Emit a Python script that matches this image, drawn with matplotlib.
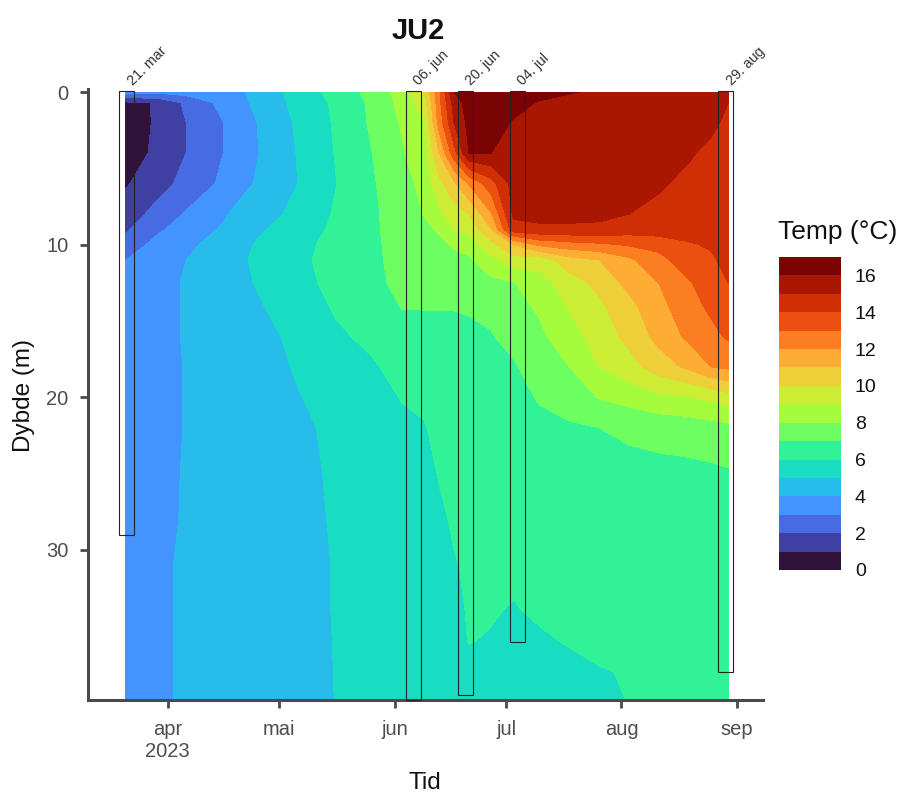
import numpy as np
import pandas as pd
import matplotlib
matplotlib.use("Agg")
import matplotlib.pyplot as plt
import matplotlib.dates as mdates
from matplotlib.colors import BoundaryNorm, ListedColormap
from matplotlib.patches import Rectangle
from matplotlib.cm import ScalarMappable

plt.rcParams['font.family'] = ['Liberation Sans', 'DejaVu Sans']

dates = ["2023-03-20 18:00", "2023-03-29", "2023-04-06", "2023-04-16", "2023-04-26", "2023-05-06",
         "2023-05-16", "2023-05-26", "2023-06-03", "2023-06-09", "2023-06-13", "2023-06-17",
         "2023-06-21", "2023-06-27", "2023-07-03", "2023-07-10", "2023-07-18", "2023-07-26",
         "2023-08-03", "2023-08-11", "2023-08-19", "2023-08-25", "2023-08-29 18:00"]
depths = [0, 0.7, 2, 4, 6, 8, 9, 10, 11, 12.5, 14, 16, 18, 20, 22, 25, 28, 31, 34, 36, 38, 39.8]

# one profile per date, top to bottom
temp = [
    [3.5, 0.8, 0.5, 0.6, 0.9, 1.5, 1.85, 2.4, 3.0, 3.2, 3.3, 3.3, 3.3, 3.3, 3.3, 3.3, 3.3, 3.4, 3.4, 3.4, 3.5, 3.5],
    [3.2, 1.05, 1.1, 1.15, 1.6, 2.3, 2.8, 3.3, 3.5, 3.6, 3.6, 3.6, 3.6, 3.6, 3.6, 3.6, 3.7, 3.8, 3.8, 3.8, 3.8, 3.8],
    [3.4, 2.2, 2.0, 2.0, 2.3, 3.1, 3.5, 3.8, 4.0, 4.1, 4.1, 4.1, 4.05, 4.05, 4.05, 4.1, 4.1, 4.15, 4.15, 4.15, 4.15, 4.15],
    [3.7, 3.3, 3.0, 3.0, 3.2, 3.9, 4.1, 4.4, 4.6, 4.6, 4.5, 4.35, 4.3, 4.25, 4.2, 4.2, 4.2, 4.2, 4.2, 4.2, 4.2, 4.2],
    [4.2, 4.3, 4.1, 4.05, 4.2, 4.7, 4.9, 5.15, 5.2, 5.1, 4.95, 4.7, 4.6, 4.5, 4.45, 4.4, 4.35, 4.35, 4.3, 4.3, 4.3, 4.3],
    [5.5, 5.3, 5.15, 5.05, 5.0, 5.2, 5.45, 5.65, 5.75, 5.65, 5.45, 5.25, 5.1, 4.95, 4.8, 4.7, 4.65, 4.6, 4.6, 4.6, 4.55, 4.55],
    [6.3, 6.15, 6.1, 6.03, 5.95, 6.1, 6.2, 6.35, 6.4, 6.3, 6.1, 5.85, 5.6, 5.35, 5.2, 5.15, 5.1, 5.05, 5.05, 5.03, 5.02, 5.01],
    [7.35, 7.2, 7.15, 7.0, 6.9, 6.85, 6.85, 6.85, 6.85, 6.85, 6.5, 6.2, 5.9, 5.6, 5.45, 5.3, 5.25, 5.2, 5.2, 5.15, 5.1, 5.1],
    [8.4, 8.3, 8.1, 7.9, 7.6, 7.45, 7.4, 7.3, 7.25, 7.15, 7.05, 6.6, 6.3, 6.05, 5.8, 5.5, 5.4, 5.4, 5.35, 5.35, 5.3, 5.3],
    [10.0, 9.5, 9.0, 8.7, 8.3, 8.05, 7.8, 7.6, 7.5, 7.3, 7.05, 6.7, 6.4, 6.15, 5.95, 5.7, 5.6, 5.55, 5.5, 5.5, 5.45, 5.4],
    [12.8, 12.7, 12.4, 11.0, 9.7, 8.8, 8.1, 7.8, 7.6, 7.3, 7.05, 6.75, 6.5, 6.35, 6.2, 6.05, 5.85, 5.75, 5.7, 5.65, 5.6, 5.55],
    [16.0, 15.4, 15.0, 13.6, 10.8, 9.5, 9.0, 8.1, 7.75, 7.35, 7.05, 6.75, 6.6, 6.45, 6.35, 6.2, 6.1, 5.95, 5.85, 5.8, 5.7, 5.6],
    [16.6, 16.5, 16.3, 16.0, 12.1, 10.0, 9.25, 8.4, 7.85, 7.35, 7.1, 6.8, 6.65, 6.5, 6.4, 6.3, 6.2, 6.1, 6.05, 6.02, 5.8, 5.6],
    [16.8, 16.6, 16.5, 16.0, 13.6, 11.9, 10.95, 9.7, 8.7, 7.75, 7.2, 6.95, 6.7, 6.55, 6.45, 6.35, 6.25, 6.15, 6.05, 5.95, 5.75, 5.6],
    [16.7, 16.4, 15.9, 15.7, 15.4, 15.2, 14.6, 11.0, 9.6, 7.95, 7.7, 7.3, 6.9, 6.6, 6.5, 6.4, 6.3, 6.15, 5.95, 5.8, 5.7, 5.6],
    [16.4, 15.9, 15.6, 15.5, 15.4, 15.3, 14.8, 12.2, 9.4, 8.6, 8.15, 7.8, 7.45, 7.1, 6.7, 6.4, 6.3, 6.2, 6.1, 5.9, 5.8, 5.7],
    [16.05, 15.8, 15.6, 15.5, 15.4, 15.3, 14.8, 12.6, 10.6, 9.5, 9.1, 8.6, 8.0, 7.35, 6.9, 6.6, 6.4, 6.3, 6.2, 6.05, 5.8, 5.7],
    [15.9, 15.7, 15.6, 15.5, 15.4, 15.2, 14.8, 12.8, 11.0, 10.3, 9.8, 9.4, 9.0, 8.05, 7.0, 6.7, 6.5, 6.4, 6.3, 6.2, 5.95, 5.7],
    [15.7, 15.6, 15.6, 15.5, 15.3, 15.0, 14.5, 13.1, 11.8, 11.3, 10.7, 10.3, 9.6, 8.4, 7.15, 6.75, 6.5, 6.4, 6.35, 6.3, 6.05, 6.04],
    [15.6, 15.6, 15.5, 15.4, 15.1, 14.8, 14.55, 13.3, 12.7, 12.0, 11.7, 11.3, 10.5, 8.8, 7.3, 6.75, 6.6, 6.5, 6.45, 6.4, 6.4, 6.3],
    [15.6, 15.5, 15.3, 15.1, 14.8, 14.6, 14.4, 13.9, 13.5, 12.9, 12.6, 12.2, 11.2, 8.95, 7.45, 6.75, 6.6, 6.55, 6.5, 6.5, 6.45, 6.4],
    [15.5, 15.4, 15.2, 14.8, 14.6, 14.5, 14.4, 14.1, 13.85, 13.5, 13.2, 12.7, 12.0, 9.2, 7.6, 6.8, 6.7, 6.6, 6.6, 6.55, 6.5, 6.5],
    [15.4, 15.0, 14.8, 14.65, 14.6, 14.6, 14.55, 14.5, 14.3, 14.0, 13.65, 13.15, 12.2, 9.6, 7.7, 6.9, 6.8, 6.7, 6.7, 6.65, 6.6, 6.6],
]

# sampling trips: date, label and how deep the profile went
trip_dates = ["2023-03-21", "2023-06-06", "2023-06-20", "2023-07-04", "2023-08-29"]
trip_labels = ["21. mar", "06. jun", "20. jun", "04. jul", "29. aug"]
trip_depths = [29, 39.8, 39.5, 36, 38]

month_ticks = ["2023-04-01", "2023-05-01", "2023-06-01", "2023-07-01", "2023-08-01", "2023-09-01"]
month_labels = ["apr\n2023", "mai", "jun", "jul", "aug", "sep"]
levels = np.arange(0, 18)
legend_ticks = np.arange(0, 17, 2)


def to_num(values):
    return mdates.date2num(pd.to_datetime(values, format='mixed'))


W, H = 902, 793
fig = plt.figure(figsize=(W / 100, H / 100), dpi=100)
ax = fig.add_axes([88 / W, 1 - 699.5 / H, (763 - 88) / W, (699.5 - 89) / H])

colors = plt.get_cmap('turbo')(np.linspace(0, 1, 17))
cmap = ListedColormap(colors)
norm = BoundaryNorm(levels, cmap.N)

xs = to_num(dates)
ax.contourf(xs, depths, np.array(temp).T, levels=levels, cmap=cmap, norm=norm)

for d, lab, depth in zip(to_num(trip_dates), trip_labels, trip_depths):
    ax.add_patch(Rectangle((d - 2, -0.1), 4, depth + 0.1, fill=False, ec='#222222', lw=0.8,
                           zorder=3, clip_on=False))
    ax.text(d + 2.2, -0.25, lab, rotation=45, rotation_mode='anchor', ha='left', va='bottom',
            fontsize=10.3, color='#333333', clip_on=False)

apr1 = to_num(["2023-04-01"])[0]
ax.set_xlim(apr1 - 21.4, apr1 + 160.05)
ax.set_ylim(39.8, -0.2)

ax.set_xticks(to_num(month_ticks))
ax.set_xticklabels(month_labels)
ax.set_yticks([0, 10, 20, 30])
ax.tick_params(length=6, width=2, color='#4a4a4a', labelcolor='#4d4d4d', labelsize=14.5)
ax.tick_params(axis='x', pad=9)
ax.tick_params(axis='y', pad=8)

for side in ['top', 'right']:
    ax.spines[side].set_visible(False)
for side in ['left', 'bottom']:
    ax.spines[side].set_linewidth(2.2)
    ax.spines[side].set_color('#4a4a4a')

fig.text(425 / W, 1 - 783 / H, "Tid", fontsize=17.5, ha='center', va='center', color='#111111')
fig.text(24 / W, 1 - 395 / H, "Dybde (m)", fontsize=17.5, rotation=90, ha='center', va='center',
         color='#111111')
fig.text(418 / W, 1 - 31 / H, "JU2", fontsize=21, fontweight='bold', ha='center', va='center',
         color='#111111')

cax = fig.add_axes([779 / W, 1 - 570 / H, (841 - 779) / W, (570 - 257) / H])
cb = fig.colorbar(ScalarMappable(norm=norm, cmap=cmap), cax=cax, spacing='uniform', ticks=legend_ticks)
cb.outline.set_visible(False)
cb.minorticks_off()
cb.ax.tick_params(which='both', length=0, labelsize=14, pad=10, labelcolor='#111111')
fig.text(778 / W, 1 - 232 / H, "Temp (°C)", fontsize=19, ha='left', va='center', color='#111111')

fig.savefig("out.png", dpi=100)
